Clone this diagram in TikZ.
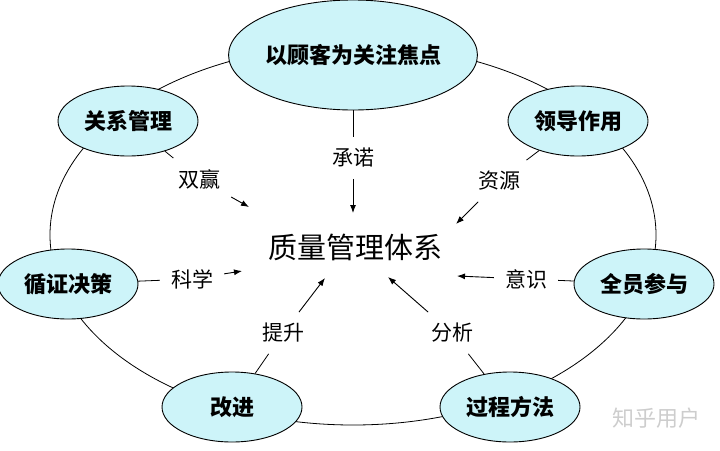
\documentclass[tikz,border=0pt]{standalone}
\usepackage{fontspec}
\usetikzlibrary{arrows.meta,shapes.geometric}
\newfontfamily\cjk{Noto Sans CJK SC}
\definecolor{pfill}{RGB}{205,244,249}
\definecolor{markgray}{RGB}{205,205,205}

\begin{document}
\begin{tikzpicture}[x=1pt,y=-1pt,
    principle/.style={ellipse,draw,line width=0.9pt,fill=pfill,inner sep=0pt,
        minimum width=140pt,minimum height=70pt,font=\cjk\bfseries\fontsize{22}{26}\selectfont},
    tag/.style={inner sep=11pt,font=\cjk\fontsize{21}{25}\selectfont},
    arr/.style={-{Latex[length=8pt,width=6pt]},line width=0.9pt}]
    \useasboundingbox (0,0) rectangle (720,450);
    % the ring behind the seven principles
    \draw[line width=0.8pt] (353,235) ellipse [x radius=303pt, y radius=190pt];

    \node (QMS) at (355,247) {\cjk\fontsize{29}{34}\selectfont 质量管理体系};
    \node[principle,minimum width=226pt,minimum height=110pt] (PCustomer) at (353,55) {以顾客为关注焦点};
    \node[principle] (PRelation) at (128,121) {关系管理};
    \node[principle] (PLeader) at (578,121) {领导作用};
    \node[principle] (PEvidence) at (68,284) {循证决策};
    \node[principle] (PPeople) at (644,284) {全员参与};
    \node[principle] (PImprove) at (232,407) {改进};
    \node[principle] (PProcess) at (510,407) {过程方法};

    \node[tag] (TCommit) at (353,158) {承诺};
    \node[tag] (TWin) at (199,179) {双赢};
    \node[tag] (TResource) at (499,181) {资源};
    \node[tag] (TScience) at (192,279) {科学};
    \node[tag] (TAware) at (526,279) {意识};
    \node[tag] (TRaise) at (283,333) {提升};
    \node[tag] (TAnalyse) at (452,333) {分析};

    \node[font=\cjk\fontsize{22}{26}\selectfont,text=markgray] (Mark) at (656,418) {知乎用户};

    \draw[line width=0.8pt] (PCustomer)--(TCommit);
    \draw[line width=0.8pt] (PRelation)--(TWin);
    \draw[line width=0.8pt] (PLeader)--(TResource);
    \draw[line width=0.8pt] (PEvidence)--(TScience);
    \draw[line width=0.8pt] (PPeople)--(TAware);
    \draw[line width=0.8pt] (PImprove)--(TRaise);
    \draw[line width=0.8pt] (PProcess)--(TAnalyse);

    \draw[arr] (TCommit)--([xshift=-2pt,yshift=34pt]QMS.center);
    \draw[arr] (TWin)--([xshift=-106pt,yshift=40pt]QMS.center);
    \draw[arr] (TResource)--([xshift=101pt,yshift=23pt]QMS.center);
    \draw[arr] (TScience)--([xshift=-113pt,yshift=-24pt]QMS.center);
    \draw[arr] (TAware)--([xshift=102pt,yshift=-29pt]QMS.center);
    \draw[arr] (TRaise)--([xshift=-30pt,yshift=-31pt]QMS.center);
    \draw[arr] (TAnalyse)--([xshift=33pt,yshift=-30pt]QMS.center);
\end{tikzpicture}
\end{document}
